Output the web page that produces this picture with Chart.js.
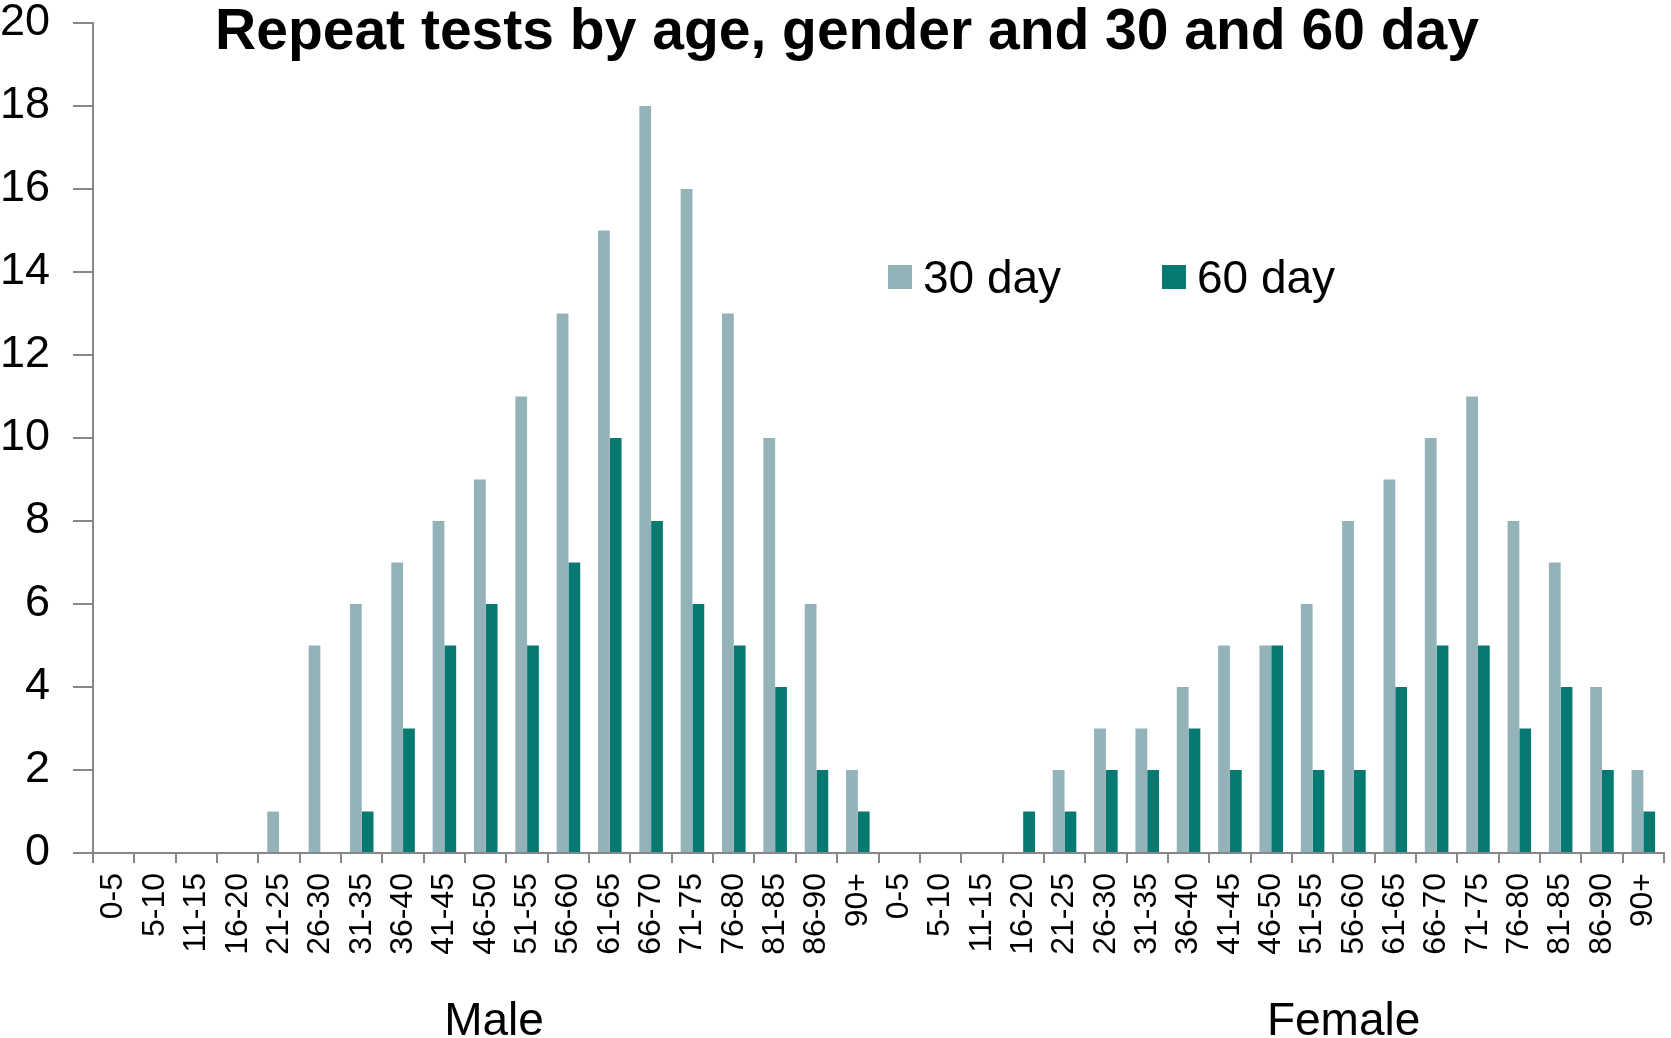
<!DOCTYPE html>
<html>
<head>
<meta charset="utf-8">
<script src="https://cdn.jsdelivr.net/npm/chart.js@4.4.1/dist/chart.umd.min.js"></script>
<style>
  body { margin: 0; background: #fff; }
  #wrap { width: 1671px; height: 1038px; position: relative; }
</style>
</head>
<body>
<div id="wrap"><canvas id="myChart"></canvas></div>
<script>
const ageGroups = ["0-5", "5-10", "11-15", "16-20", "21-25", "26-30", "31-35", "36-40", "41-45",
  "46-50", "51-55", "56-60", "61-65", "66-70", "71-75", "76-80", "81-85", "86-90", "90+"];
const male30 = [0, 0, 0, 0, 1, 5, 6, 7, 8, 9, 11, 13, 15, 18, 16, 13, 10, 6, 2];
const male60 = [0, 0, 0, 0, 0, 0, 1, 3, 5, 6, 5, 7, 10, 8, 6, 5, 4, 2, 1];
const female30 = [0, 0, 0, 0, 2, 3, 3, 4, 5, 5, 6, 8, 9, 10, 11, 8, 7, 4, 2];
const female60 = [0, 0, 0, 1, 1, 2, 2, 3, 2, 5, 2, 2, 4, 5, 5, 3, 4, 2, 1];
const seriesNames = ["30 day", "60 day"];
const groupNames = ["Male", "Female"];
const titleText = "Repeat tests by age, gender and 30 and 60 day";

const FONT = "'Liberation Sans', Arial, sans-serif";
const colors = ["#93B3B9", "#067A71"];

// titre, légende et libellés de groupe dessinés à la main
const extras = {
  id: "extras",
  afterDraw(chart) {
    const ctx = chart.ctx;
    const x = chart.scales.x;
    ctx.save();
    ctx.fillStyle = "#000";
    ctx.textBaseline = "alphabetic";

    ctx.font = "bold 57px " + FONT;
    ctx.textAlign = "center";
    ctx.fillText(titleText, 847, 49);

    // legend
    ctx.font = "46px " + FONT;
    ctx.textAlign = "left";
    const legendX = [888, 1162];
    chart.data.datasets.forEach((ds, i) => {
      ctx.fillStyle = ds.backgroundColor;
      ctx.fillRect(legendX[i], 265, 24, 24);
      ctx.fillStyle = "#000";
      ctx.fillText(ds.label, legendX[i] + 35, 293);
    });

    // Male / Female
    ctx.font = "46px " + FONT;
    ctx.textAlign = "center";
    ctx.fillText(groupNames[0], x.getPixelForValue(9.2), 1035);
    ctx.fillText(groupNames[1], x.getPixelForValue(29.75), 1035);
    ctx.restore();
  },
};

new Chart(document.getElementById("myChart"), {
  type: "bar",
  data: {
    labels: ageGroups.concat(ageGroups),
    datasets: [
      {
        label: seriesNames[0],
        data: male30.concat(female30),
        backgroundColor: colors[0],
        categoryPercentage: 0.57,
        barPercentage: 1.0,
      },
      {
        label: seriesNames[1],
        data: male60.concat(female60),
        backgroundColor: colors[1],
        categoryPercentage: 0.57,
        barPercentage: 1.0,
      },
    ],
  },
  options: {
    responsive: true,
    maintainAspectRatio: false,
    animation: false,
    layout: { padding: { top: 23, right: 7, left: 0, bottom: 0 } },
    plugins: {
      legend: { display: false },
      title: { display: false },
      tooltip: { enabled: false },
    },
    scales: {
      x: {
        afterFit(scale) {
          scale.height = 185;
          scale.paddingLeft = 0;
          scale.paddingRight = 0;
        },
        grid: {
          display: true,
          drawOnChartArea: false, // только засечки
          drawTicks: true,
          tickLength: 10,
          color: "#888",
          lineWidth: 2,
        },
        border: { display: true, color: "#888", width: 2 },
        ticks: {
          autoSkip: false,
          minRotation: 90,
          maxRotation: 90,
          padding: 10,
          color: "#000",
          font: { family: FONT, size: 32 },
        },
      },
      y: {
        min: 0,
        max: 20,
        afterFit(scale) {
          scale.width = 93;
          scale.paddingTop = 0;
          scale.paddingBottom = 0;
        },
        grid: {
          drawOnChartArea: false,
          drawTicks: true,
          tickLength: 20,
          color: "#888",
          lineWidth: 2,
        },
        border: { display: true, color: "#888", width: 2 },
        ticks: {
          stepSize: 2,
          padding: 23,
          color: "#000",
          font: { family: FONT, size: 45 },
        },
      },
    },
  },
  plugins: [extras],
});
</script>
</body>
</html>
